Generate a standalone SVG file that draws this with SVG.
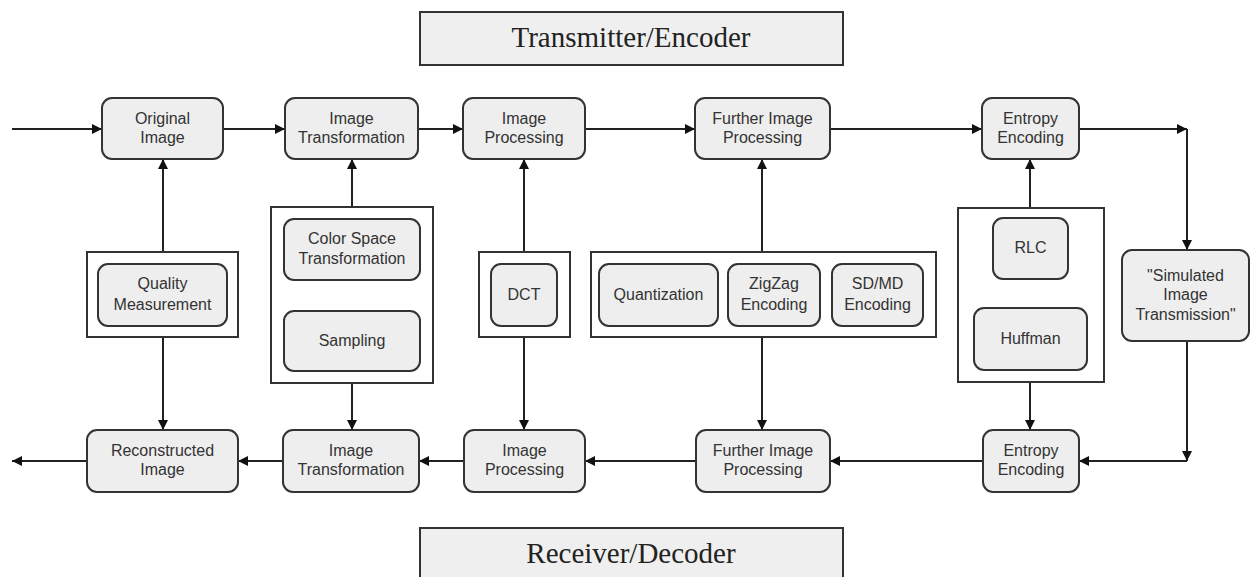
<svg xmlns="http://www.w3.org/2000/svg" width="1250" height="577" viewBox="0 0 1250 577">
<defs>
<style>
.hdr{fill:#efefef;stroke:#333;stroke-width:2}
.ht{font-family:"Liberation Serif",serif;font-size:29px;fill:#222;text-anchor:middle}
.nd{fill:#eeeeee;stroke:#333;stroke-width:2}
.grp{fill:#fff;stroke:#333;stroke-width:2}
.t{font-family:"Liberation Sans",Arial,sans-serif;font-size:16px;fill:#333;text-anchor:middle}
.c{fill:none;stroke:#222;stroke-width:2}
</style>
<marker id="ah" viewBox="0 0 10 10" refX="10" refY="5" markerWidth="5" markerHeight="5" orient="auto" markerUnits="strokeWidth">
<path d="M0,0 L10,5 L0,10 z" fill="#111"/>
</marker>
</defs>
<rect width="1250" height="577" fill="#fff"/>

<g id="hdr-tx"><rect class="hdr" x="420" y="12" width="423" height="53"/><text class="ht" x="631" y="47">Transmitter/Encoder</text></g>
<g id="hdr-rx"><rect class="hdr" x="420" y="528" width="423" height="60"/><text class="ht" x="631" y="563">Receiver/Decoder</text></g>

<g id="connectors">
<line class="c" x1="12" y1="129" x2="102" y2="129" marker-end="url(#ah)"/>
<line class="c" x1="223" y1="129" x2="285" y2="129" marker-end="url(#ah)"/>
<line class="c" x1="418" y1="129" x2="463" y2="129" marker-end="url(#ah)"/>
<line class="c" x1="585" y1="129" x2="695" y2="129" marker-end="url(#ah)"/>
<line class="c" x1="830" y1="129" x2="982" y2="129" marker-end="url(#ah)"/>
<line class="c" x1="1079" y1="129" x2="1187" y2="129" marker-end="url(#ah)"/>
<line class="c" x1="1187" y1="129" x2="1187" y2="250" marker-end="url(#ah)"/>
<line class="c" x1="1187" y1="341" x2="1187" y2="461" marker-end="url(#ah)"/>
<line class="c" x1="1187" y1="461" x2="1079" y2="461" marker-end="url(#ah)"/>
<line class="c" x1="983" y1="461" x2="830" y2="461" marker-end="url(#ah)"/>
<line class="c" x1="696" y1="461" x2="585" y2="461" marker-end="url(#ah)"/>
<line class="c" x1="464" y1="461" x2="419" y2="461" marker-end="url(#ah)"/>
<line class="c" x1="283" y1="461" x2="238" y2="461" marker-end="url(#ah)"/>
<line class="c" x1="87" y1="461" x2="12" y2="461" marker-end="url(#ah)"/>

<line class="c" x1="163" y1="252" x2="163" y2="159" marker-end="url(#ah)"/>
<line class="c" x1="163" y1="337" x2="163" y2="430" marker-end="url(#ah)"/>
<line class="c" x1="352" y1="207" x2="352" y2="159" marker-end="url(#ah)"/>
<line class="c" x1="352" y1="383" x2="352" y2="430" marker-end="url(#ah)"/>
<line class="c" x1="524" y1="252" x2="524" y2="159" marker-end="url(#ah)"/>
<line class="c" x1="524" y1="337" x2="524" y2="430" marker-end="url(#ah)"/>
<line class="c" x1="762" y1="252" x2="762" y2="159" marker-end="url(#ah)"/>
<line class="c" x1="762" y1="337" x2="762" y2="430" marker-end="url(#ah)"/>
<line class="c" x1="1030" y1="208" x2="1030" y2="159" marker-end="url(#ah)"/>
<line class="c" x1="1030" y1="382" x2="1030" y2="430" marker-end="url(#ah)"/>
</g>

<g id="original-image"><rect class="nd" x="102" y="98" width="121" height="61" rx="10"/><text class="t" x="162.5" y="124">Original</text><text class="t" x="162.5" y="143">Image</text></g>
<g id="image-transformation-tx"><rect class="nd" x="285" y="98" width="133" height="61" rx="10"/><text class="t" x="351.5" y="124">Image</text><text class="t" x="351.5" y="143">Transformation</text></g>
<g id="image-processing-tx"><rect class="nd" x="463" y="98" width="122" height="61" rx="10"/><text class="t" x="524" y="124">Image</text><text class="t" x="524" y="143">Processing</text></g>
<g id="further-processing-tx"><rect class="nd" x="695" y="98" width="135" height="61" rx="10"/><text class="t" x="762.5" y="124">Further Image</text><text class="t" x="762.5" y="143">Processing</text></g>
<g id="entropy-encoding-tx"><rect class="nd" x="982" y="98" width="97" height="61" rx="10"/><text class="t" x="1030.5" y="124">Entropy</text><text class="t" x="1030.5" y="143">Encoding</text></g>

<g id="quality-group"><rect class="grp" x="87" y="252" width="151" height="85"/>
<rect class="nd" x="98" y="264" width="129" height="62" rx="10"/><text class="t" x="162.5" y="289">Quality</text><text class="t" x="162.5" y="310">Measurement</text></g>
<g id="color-group"><rect class="grp" x="271" y="207" width="162" height="176"/>
<rect class="nd" x="284" y="219" width="136" height="61" rx="10"/><text class="t" x="352" y="244">Color Space</text><text class="t" x="352" y="264">Transformation</text>
<rect class="nd" x="284" y="311" width="136" height="60" rx="10"/><text class="t" x="352" y="346">Sampling</text></g>
<g id="dct-group"><rect class="grp" x="479" y="252" width="91" height="85"/>
<rect class="nd" x="491" y="264" width="66" height="62" rx="10"/><text class="t" x="524" y="300">DCT</text></g>
<g id="quant-group"><rect class="grp" x="591" y="252" width="345" height="85"/>
<rect class="nd" x="599" y="264" width="119" height="62" rx="10"/><text class="t" x="658.5" y="300">Quantization</text>
<rect class="nd" x="728" y="264" width="92" height="62" rx="10"/><text class="t" x="774" y="289">ZigZag</text><text class="t" x="774" y="310">Encoding</text>
<rect class="nd" x="832" y="264" width="91" height="62" rx="10"/><text class="t" x="877.5" y="289">SD/MD</text><text class="t" x="877.5" y="310">Encoding</text></g>
<g id="entropy-group"><rect class="grp" x="958" y="208" width="146" height="174"/>
<rect class="nd" x="993" y="218" width="75" height="61" rx="10"/><text class="t" x="1030.5" y="253">RLC</text>
<rect class="nd" x="974" y="308" width="113" height="62" rx="10"/><text class="t" x="1030.5" y="344">Huffman</text></g>
<g id="simulated"><rect class="nd" x="1122" y="250" width="127" height="91" rx="10"/><text class="t" x="1185.5" y="281">"Simulated</text><text class="t" x="1185.5" y="300">Image</text><text class="t" x="1185.5" y="320">Transmission"</text></g>

<g id="reconstructed-image"><rect class="nd" x="87" y="430" width="151" height="62" rx="10"/><text class="t" x="162.5" y="456">Reconstructed</text><text class="t" x="162.5" y="475">Image</text></g>
<g id="image-transformation-rx"><rect class="nd" x="283" y="430" width="136" height="62" rx="10"/><text class="t" x="351" y="456">Image</text><text class="t" x="351" y="475">Transformation</text></g>
<g id="image-processing-rx"><rect class="nd" x="464" y="430" width="121" height="62" rx="10"/><text class="t" x="524.5" y="456">Image</text><text class="t" x="524.5" y="475">Processing</text></g>
<g id="further-processing-rx"><rect class="nd" x="696" y="430" width="134" height="62" rx="10"/><text class="t" x="763" y="456">Further Image</text><text class="t" x="763" y="475">Processing</text></g>
<g id="entropy-encoding-rx"><rect class="nd" x="983" y="430" width="96" height="62" rx="10"/><text class="t" x="1031" y="456">Entropy</text><text class="t" x="1031" y="475">Encoding</text></g>
</svg>
